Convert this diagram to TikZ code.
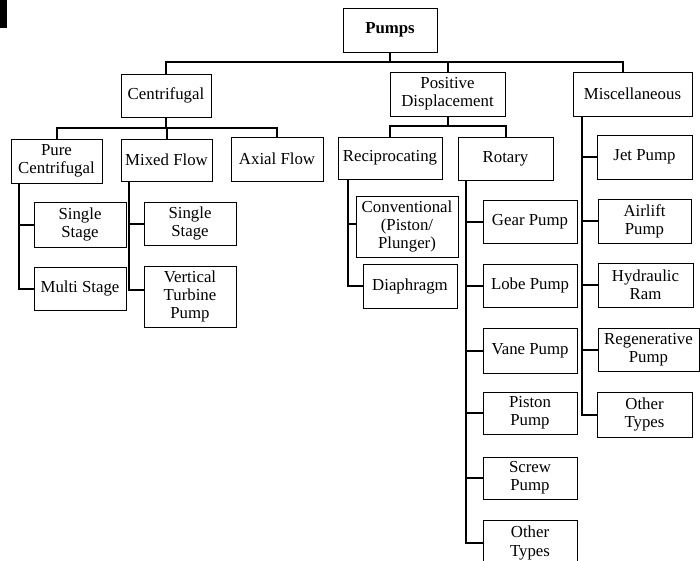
\documentclass[tikz,border=0pt]{standalone}
\usepackage{fontspec}
\setmainfont{Liberation Serif}
\begin{document}
\begin{tikzpicture}[x=1pt,y=-1pt,
  box/.style={draw, line width=1pt, inner sep=0pt, align=center, font=\fontsize{16.8}{18.2}\selectfont},
  conn/.style={line width=2pt}]
\clip (0,0) rectangle (700,560);
\fill[white] (0,0) rectangle (700,560);
\fill[black] (0,0) rectangle (7,28);
% helper: place box by corners
\def\bx#1#2#3#4#5#6{\node[box, minimum width={#4-#2}, minimum height={#5-#3}] (#1) at ({(#2+#4)/2},{(#3+#5)/2}) {#6};}
\bx{pumps}{343}{8}{437}{52}{\textbf{Pumps}}
\bx{cent}{121}{74}{211}{117}{Centrifugal}
\bx{pd}{390}{72}{505}{116}{Positive\\Displacement}
\bx{misc}{573}{72}{692}{116}{Miscellaneous}
\bx{pure}{11}{139}{102}{183}{Pure\\Centrifugal}
\bx{mixed}{121}{139}{212}{181}{Mixed Flow}
\bx{axial}{231}{137}{323}{181}{Axial Flow}
\bx{recip}{338}{137}{442}{179}{Reciprocating}
\bx{rotary}{458}{137}{553}{180}{Rotary}
\bx{jet}{597}{135}{692}{179}{Jet Pump}
\bx{ssa}{34}{202}{126}{247}{Single\\Stage}
\bx{multi}{34}{267}{126}{310}{Multi Stage}
\bx{ssb}{144}{202}{236}{245}{Single\\Stage}
\bx{vtp}{144}{266}{236}{327}{Vertical\\Turbine\\Pump}
\bx{conv}{356}{196}{458}{257}{Conventional\\(Piston/\\Plunger)}
\bx{diaph}{363}{264}{457}{308}{Diaphragm}
\bx{gear}{483}{200}{577}{243}{Gear Pump}
\bx{lobe}{483}{264}{577}{307}{Lobe Pump}
\bx{vane}{483}{328}{577}{373}{Vane Pump}
\bx{piston}{483}{392}{577}{434}{Piston\\Pump}
\bx{screw}{483}{457}{577}{499}{Screw\\Pump}
\bx{othera}{483}{520}{577}{566}{Other\\Types}
\bx{airlift}{598}{199}{691}{243}{Airlift\\Pump}
\bx{hram}{598}{263}{693}{307}{Hydraulic\\Ram}
\bx{regen}{598}{328}{699}{371}{Regenerative\\Pump}
\bx{otherb}{597}{392}{692}{437}{Other\\Types}
% level 1
\coordinate (busa) at (0,62);
\draw[conn] (pumps.south) -- (pumps.south |- busa);
\draw[conn] (cent.north) -- (cent.north |- busa) -- ([xshift=-10pt]misc.north |- busa) -- ([xshift=-10pt]misc.north);
\draw[conn] (pd.north) -- (pd.north |- busa);
% centrifugal children
\coordinate (busb) at (0,128);
\draw[conn] (cent.south) -- (cent.south |- busb);
\draw[conn] (pure.north) -- (pure.north |- busb) -- (axial.north |- busb) -- (axial.north);
\draw[conn] (mixed.north) -- (mixed.north |- busb);
% positive displacement children
\coordinate (busc) at (0,126);
\draw[conn] (pd.south) -- (pd.south |- busc);
\draw[conn] (recip.north) -- (recip.north |- busc) -- (rotary.north |- busc) -- (rotary.north);
% pure centrifugal
\coordinate (ta) at ([xshift=8pt]pure.south west);
\draw[conn] (ta) |- (multi.west);
\draw[conn] (ssa.west) -- (ssa.west -| ta);
% mixed flow
\coordinate (tb) at ([xshift=8.3pt]mixed.south west);
\draw[conn] (tb) |- ([yshift=7pt]vtp.west);
\draw[conn] (ssb.west) -- (ssb.west -| tb);
% reciprocating
\coordinate (tc) at ([xshift=10.3pt]recip.south west);
\draw[conn] (tc) |- (diaph.west);
\draw[conn] ([yshift=3pt]conv.west) -- ([yshift=3pt]conv.west -| tc);
% rotary
\coordinate (td) at ([xshift=8.7pt]rotary.south west);
\draw[conn] (td) |- (othera.west);
\foreach \n in {gear,lobe,vane,piston,screw}
  \draw[conn] (\n.west) -- (\n.west -| td);
% miscellaneous
\coordinate (te) at ([xshift=9.3pt]misc.south west);
\draw[conn] (te) |- (otherb.west);
\foreach \n in {jet,airlift,hram,regen}
  \draw[conn] (\n.west) -- (\n.west -| te);
\end{tikzpicture}
\end{document}
